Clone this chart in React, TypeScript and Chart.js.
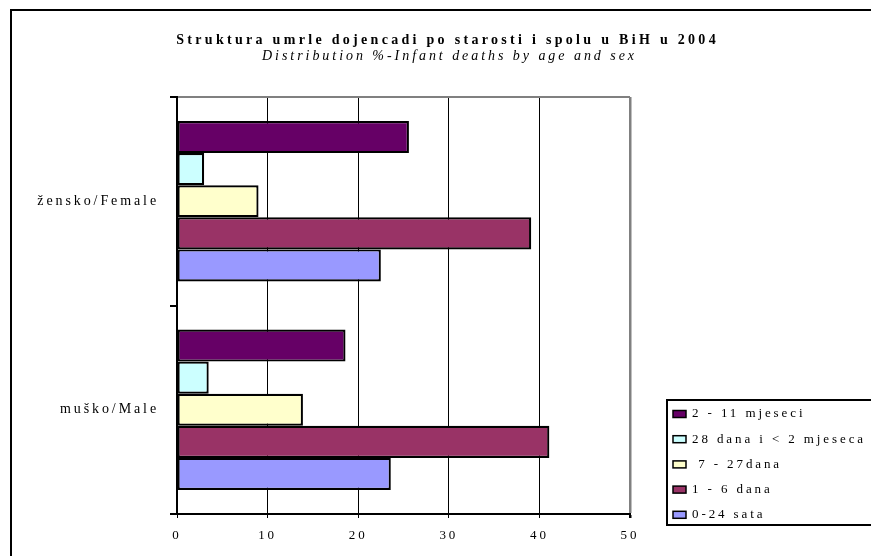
import React, { useEffect, useRef } from 'react';
import { Chart, registerables } from 'chart.js';

Chart.register(...registerables);

const titleText = 'Struktura umrle dojencadi po starosti i spolu u BiH u 2004';
const subtitleText = 'Distribution %-Infant deaths by age and sex';

const categories = ['žensko/Female', 'muško/Male'];
const seriesLabels = ['2 - 11 mjeseci', '28 dana i < 2 mjeseca', ' 7 - 27dana', '1 - 6 dana', '0-24 sata'];
const seriesColors = ['#660066', '#CCFFFF', '#FFFFCC', '#993366', '#9999FF'];

const months2to11 = [25.6, 18.6];
const days28to2months = [3.0, 3.5];
const days7to27 = [9.0, 13.9];
const days1to6 = [39.1, 41.1];
const hours0to24 = [22.5, 23.6];

const seriesValues = [months2to11, days28to2months, days7to27, days1to6, hours0to24];

const xMin = 0;
const xMax = 50;
const xStep = 10;

const FONT = '"Liberation Serif", "Times New Roman", serif';

const decorPlugin = {
  id: 'decor',
  beforeDraw(chart: any) {
    const ctx = chart.ctx;
    ctx.save();
    ctx.fillStyle = '#ffffff';
    ctx.fillRect(0, 0, chart.width, chart.height);
    ctx.restore();
    ctx.letterSpacing = '2.9px';
  },
  afterDraw(chart: any) {
    const ctx = chart.ctx;
    ctx.save();
    // outer frame
    ctx.strokeStyle = '#000';
    ctx.lineWidth = 2;
    ctx.beginPath();
    ctx.moveTo(11, chart.height + 5);
    ctx.lineTo(11, 10);
    ctx.lineTo(chart.width + 5, 10);
    ctx.stroke();

    // titles
    ctx.fillStyle = '#000';
    ctx.textAlign = 'center';
    ctx.textBaseline = 'alphabetic';
    ctx.font = `bold 14px ${FONT}`;
    ctx.letterSpacing = '3.3px';
    ctx.fillText(titleText, 446 + 1.6, 44);
    ctx.font = `italic 14px ${FONT}`;
    ctx.letterSpacing = '2.95px';
    ctx.fillText(subtitleText, 448 + 1.5, 59.5);

    // legend
    const lx = 667;
    const ly = 400;
    ctx.lineWidth = 2;
    ctx.strokeStyle = '#000';
    ctx.strokeRect(lx, ly, 300, 125);
    ctx.font = `13px ${FONT}`;
    ctx.textAlign = 'left';
    ctx.textBaseline = 'middle';
    ctx.letterSpacing = '2.9px';
    chart.data.datasets.forEach((ds: any, i: number) => {
      const cy = 414 + i * 25.2;
      ctx.fillStyle = ds.backgroundColor;
      ctx.fillRect(673, cy - 3.5, 13, 7);
      ctx.lineWidth = 1.5;
      ctx.strokeStyle = '#000';
      ctx.strokeRect(673, cy - 3.5, 13, 7);
      ctx.fillStyle = '#000';
      ctx.fillText(ds.label, 692, cy);
    });
    ctx.restore();
  },
};

export default function App() {
  const canvasRef = useRef<HTMLCanvasElement | null>(null);

  useEffect(() => {
    if (!canvasRef.current) return;
    const chart = new Chart(canvasRef.current, {
      type: 'bar',
      data: {
        labels: categories,
        datasets: seriesLabels.map((label, i) => ({
          label,
          data: seriesValues[i],
          backgroundColor: seriesColors[i],
          borderColor: '#000',
          borderWidth: 2.2,
          borderSkipped: false,
          categoryPercentage: 0.77,
          barPercentage: 1,
        })),
      },
      options: {
        indexAxis: 'y',
        responsive: false,
        animation: false,
        events: [],
        layout: { padding: { top: 97, right: 241, bottom: 0, left: 0 } },
        plugins: {
          legend: { display: false },
          title: { display: false },
          tooltip: { enabled: false },
        },
        scales: {
          x: {
            min: xMin,
            max: xMax,
            ticks: {
              stepSize: xStep,
              color: '#000',
              font: { family: FONT, size: 13 },
              padding: 10,
            },
            grid: {
              color: (c: any) =>
                c.tick && c.tick.value === xMax ? '#808080' : c.tick && c.tick.value === xMin ? 'transparent' : '#000',
              lineWidth: (c: any) => (c.tick && c.tick.value === xMax ? 2.5 : 1),
              tickColor: '#000',
              tickLength: 4,
            },
            border: { color: '#000', width: 2 },
            afterFit: (s: any) => {
              s.height = 42;
            },
          },
          y: {
            ticks: {
              color: '#000',
              font: { family: FONT, size: 14 },
              padding: 11,
            },
            grid: {
              offset: true,
              color: (c: any) => (c.index === 0 ? '#808080' : 'transparent'),
              lineWidth: 2,
              tickColor: '#000',
              tickLength: 7,
            },
            border: { color: '#000', width: 2 },
            afterFit: (s: any) => {
              s.width = 177;
            },
          },
        },
      } as any,
      plugins: [decorPlugin],
    });
    return () => chart.destroy();
  }, []);

  return (
    <div style={{ position: 'absolute', left: 0, top: 0, width: 871, height: 556 }}>
      <canvas ref={canvasRef} width={871} height={556} />
    </div>
  );
}
